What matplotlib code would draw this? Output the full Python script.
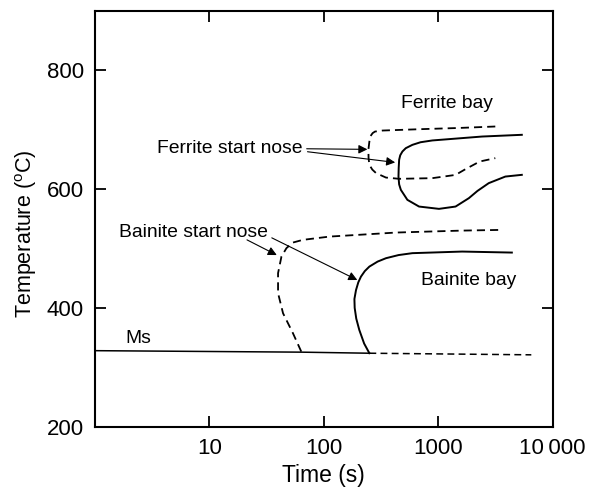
import matplotlib
matplotlib.use("Agg")
import matplotlib.pyplot as plt
from matplotlib.ticker import FixedLocator, FixedFormatter, NullLocator

plt.rcParams['font.family'] = ['Liberation Sans', 'DejaVu Sans']

# Ms line (solid up to the bainite start nose, dashed beyond)
ms_solid_t = [1, 63.5, 250]
ms_solid_T = [328, 325.5, 323.7]
ms_dash_t = [250, 6500]
ms_dash_T = [323.7, 321]

# bainite start, dashed curve
bain_dash_t = [63.5, 53.7, 44, 39.8, 39.8, 42.6, 47.1, 53.5, 65.6, 112, 427, 830, 1617, 3605]
bain_dash_T = [326.4, 357.4, 391, 424.8, 458.5, 486.4, 500.6, 510, 514.6, 520.1, 526.9, 528.6, 530.2, 531.4]

# bainite start, solid curve
bain_solid_t = [250, 225, 204, 192, 186, 185, 191, 200, 211, 228, 250, 295, 349, 450, 594, 1617, 4395]
bain_solid_T = [323.7, 340, 363, 382, 400, 415, 430, 443, 452.7, 462, 469.6, 478, 483.7, 489, 492.2, 494.9, 493.2]

# ferrite start, dashed curve
fer_dash_t = [3150, 1500, 700, 326, 280, 267, 255, 250, 245, 246, 250, 265, 286, 349, 455, 887, 1416, 1730, 2300, 3150]
fer_dash_T = [705.5, 703, 701, 698.7, 697, 694.4, 689, 680.2, 666.2, 652, 641, 633, 627, 619.5, 617.4, 618.5, 624, 633.7, 646.5, 652.2]

# ferrite start, solid curve
fer_solid_t = [5370, 2416, 887, 700, 594, 520, 486, 465, 455, 451, 449, 455, 471, 537, 679, 1014, 1416, 1850, 2200, 2760, 3855, 5370]
fer_solid_T = [691.5, 688.6, 682, 679, 674.6, 669, 663.4, 657, 649.4, 636, 621.2, 608, 598.8, 582, 570.7, 566.8, 570.7, 584.8, 597, 610.1, 621.2, 624.1]

x_ticks = [10, 100, 1000, 10000]
x_labels = ['10', '100', '1000', '10\u2009000']
y_ticks = [200, 400, 600, 800]

fig = plt.figure(figsize=(6.03, 4.91), dpi=100)
ax = fig.add_axes([0.1575, 0.131, 0.7591, 0.8466])

dash = (0, (4.5, 2.8))
ax.plot(ms_solid_t, ms_solid_T, color='k', lw=1.1)
ax.plot(ms_dash_t, ms_dash_T, color='k', lw=1.1, linestyle=dash)
ax.plot(bain_dash_t, bain_dash_T, color='k', lw=1.3, linestyle=dash)
ax.plot(bain_solid_t, bain_solid_T, color='k', lw=1.4)
ax.plot(fer_dash_t, fer_dash_T, color='k', lw=1.3, linestyle=dash)
ax.plot(fer_solid_t, fer_solid_T, color='k', lw=1.4)

ax.set_xscale('log')
ax.set_xlim(1, 10000)
ax.set_ylim(200, 900)

ax.xaxis.set_major_locator(FixedLocator(x_ticks))
ax.xaxis.set_major_formatter(FixedFormatter(x_labels))
ax.xaxis.set_minor_locator(NullLocator())
ax.set_yticks(y_ticks)
ax.tick_params(direction='in', length=8, width=1.3, labelsize=16, pad=8,
               top=True, right=True, colors='k')
for s in ax.spines.values():
    s.set_linewidth(1.5)

ax.set_xlabel('Time (s)', fontsize=16.5, labelpad=4)
ax.set_ylabel(r'Temperature ($\mathregular{^{o}}$C)', fontsize=15.5)
ax.yaxis.set_label_coords(-0.122, 0.464)

txt = dict(fontsize=13.9, color='k')
ax.text(1.85, 348, 'Ms', ha='left', va='center', **txt)
ax.text(1191, 745, 'Ferrite bay', ha='center', va='center', **txt)
ax.text(1849, 447, 'Bainite bay', ha='center', va='center', **txt)
ax.text(65, 669, 'Ferrite start nose', ha='right', va='center', **txt)
ax.text(32.4, 527, 'Bainite start nose', ha='right', va='center', **txt)

arrow = dict(arrowstyle='-|>', color='k', lw=0.8, mutation_scale=13,
             shrinkA=0, shrinkB=0)
ax.annotate('', xy=(240, 667), xytext=(70.8, 668), arrowprops=arrow)
ax.annotate('', xy=(420, 645), xytext=(72, 663), arrowprops=arrow)
ax.annotate('', xy=(38.8, 489), xytext=(21.3, 514.6), arrowprops=arrow)
ax.annotate('', xy=(196, 447), xytext=(35.1, 518), arrowprops=arrow)

fig.savefig('out.png', dpi=100)
